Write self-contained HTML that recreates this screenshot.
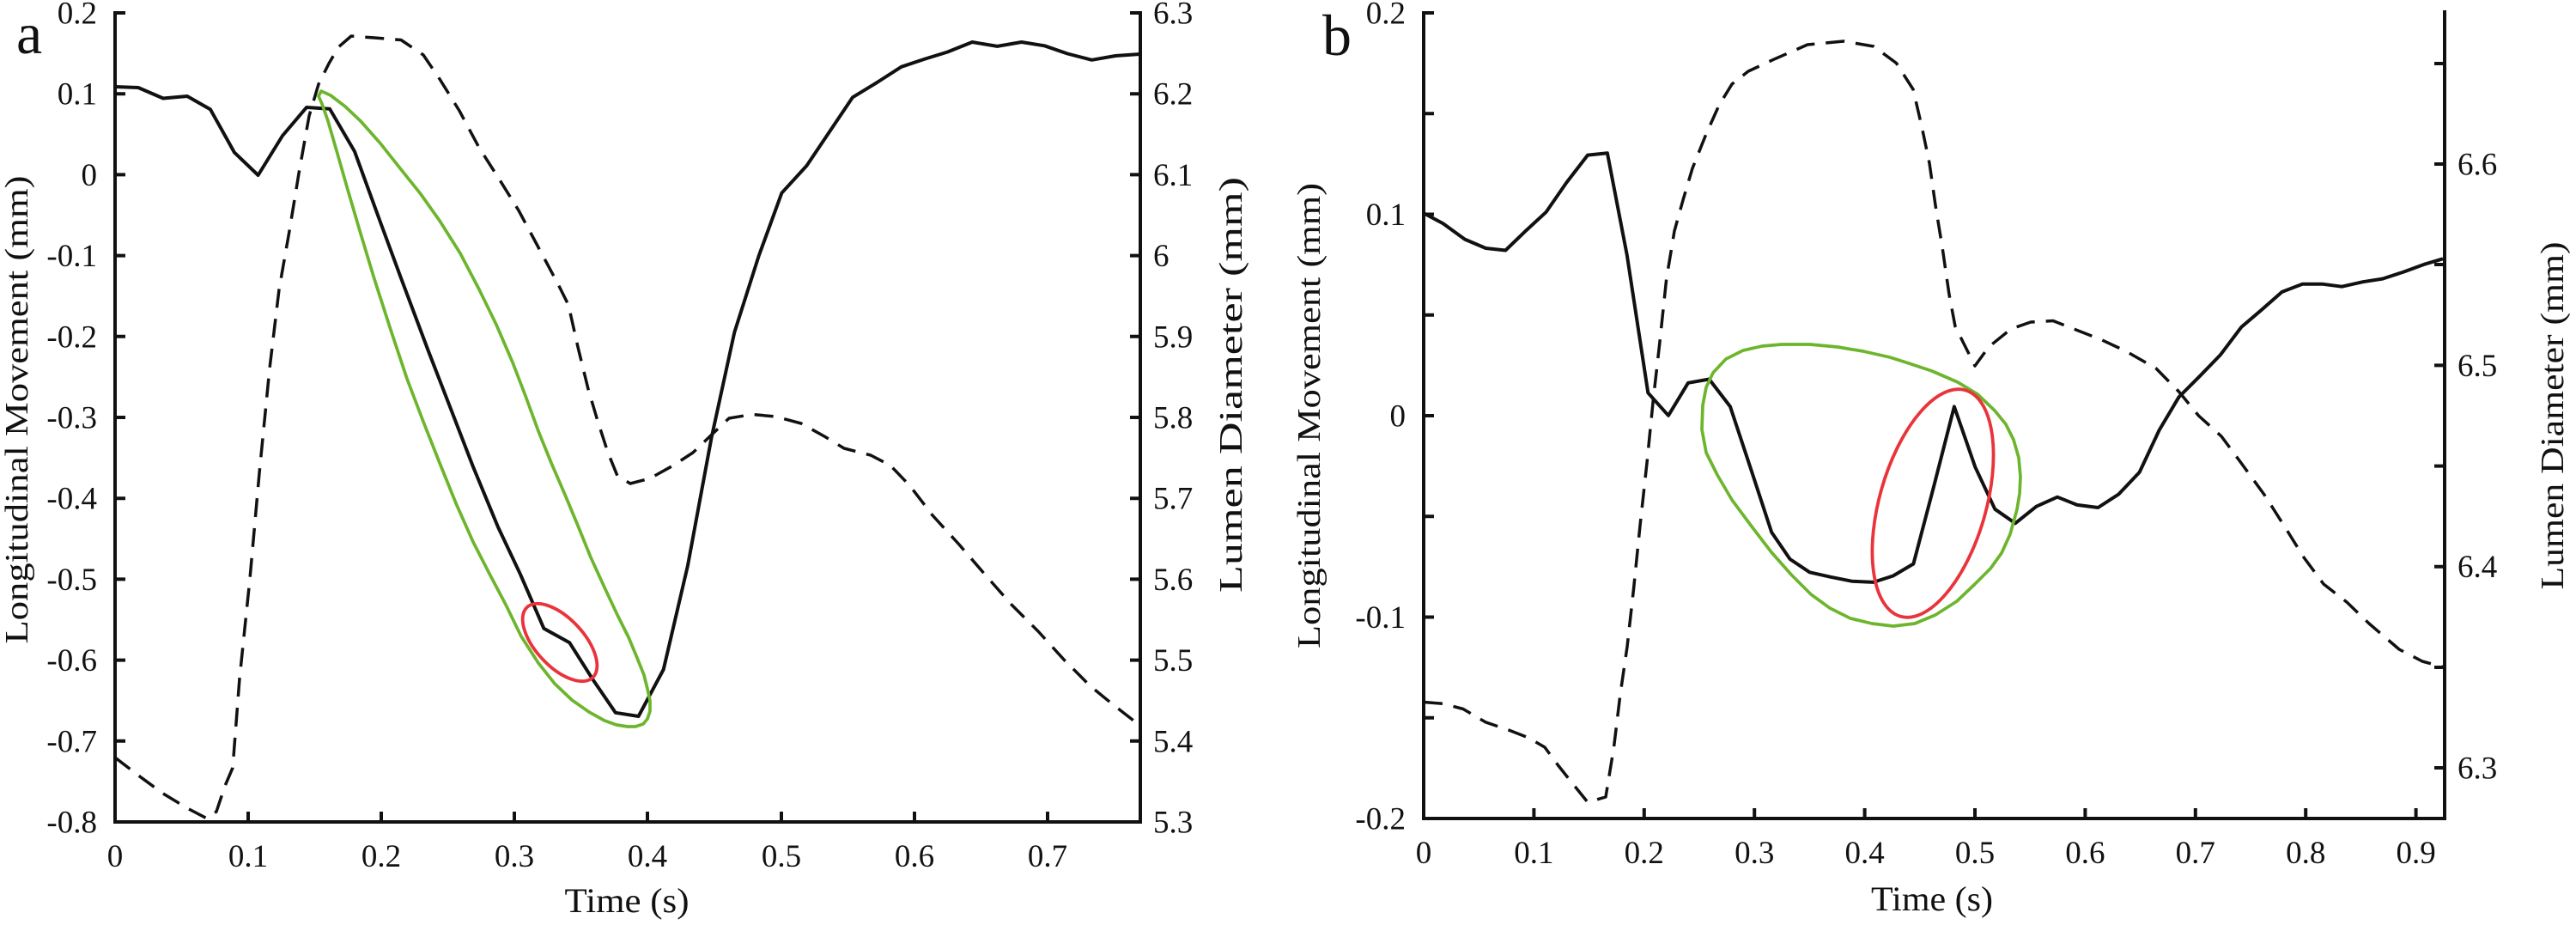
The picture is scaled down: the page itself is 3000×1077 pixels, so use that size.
<!DOCTYPE html>
<html>
<head>
<meta charset="utf-8">
<style>
html,body{margin:0;padding:0;background:#fff;}
svg{display:block;}
text{font-family:"Liberation Serif",serif;fill:#111;}
</style>
</head>
<body>
<svg width="3000" height="1077" viewBox="0 0 3000 1077" xmlns="http://www.w3.org/2000/svg">
<rect width="3000" height="1077" fill="#fff"/>

<!-- ================= PANEL A ================= -->
<g stroke="#111" stroke-width="4" fill="none" stroke-linecap="square">
  <path d="M134,15 V957 H1328 V15"/>
  <!-- left ticks -->
  <path d="M134,15 h12 M134,109.2 h12 M134,203.4 h12 M134,297.6 h12 M134,391.8 h12 M134,486 h12 M134,580.2 h12 M134,674.4 h12 M134,768.6 h12 M134,862.8 h12" stroke-linecap="butt"/>
  <!-- right ticks -->
  <path d="M1328,15 h-12 M1328,109.2 h-12 M1328,203.4 h-12 M1328,297.6 h-12 M1328,391.8 h-12 M1328,486 h-12 M1328,580.2 h-12 M1328,674.4 h-12 M1328,768.6 h-12 M1328,862.8 h-12" stroke-linecap="butt"/>
  <!-- bottom ticks -->
  <path d="M289,957 v-12 M444,957 v-12 M599,957 v-12 M754,957 v-12 M910,957 v-12 M1065,957 v-12 M1220,957 v-12" stroke-linecap="butt"/>
</g>

<g font-size="37" text-anchor="end">
  <text x="113" y="27.5">0.2</text>
  <text x="113" y="121.7">0.1</text>
  <text x="113" y="215.9">0</text>
  <text x="113" y="310.1">-0.1</text>
  <text x="113" y="404.3">-0.2</text>
  <text x="113" y="498.5">-0.3</text>
  <text x="113" y="592.7">-0.4</text>
  <text x="113" y="686.9">-0.5</text>
  <text x="113" y="781.1">-0.6</text>
  <text x="113" y="875.3">-0.7</text>
  <text x="113" y="969.5">-0.8</text>
</g>
<g font-size="37" text-anchor="start">
  <text x="1343" y="27.5">6.3</text>
  <text x="1343" y="121.7">6.2</text>
  <text x="1343" y="215.9">6.1</text>
  <text x="1343" y="310.1">6</text>
  <text x="1343" y="404.3">5.9</text>
  <text x="1343" y="498.5">5.8</text>
  <text x="1343" y="592.7">5.7</text>
  <text x="1343" y="686.9">5.6</text>
  <text x="1343" y="781.1">5.5</text>
  <text x="1343" y="875.3">5.4</text>
  <text x="1343" y="969.5">5.3</text>
</g>
<g font-size="37" text-anchor="middle">
  <text x="134" y="1009">0</text>
  <text x="289" y="1009">0.1</text>
  <text x="444" y="1009">0.2</text>
  <text x="599" y="1009">0.3</text>
  <text x="754" y="1009">0.4</text>
  <text x="910" y="1009">0.5</text>
  <text x="1065" y="1009">0.6</text>
  <text x="1220" y="1009">0.7</text>
</g>

<text x="730" y="1062" font-size="40" text-anchor="middle" textLength="145" lengthAdjust="spacingAndGlyphs">Time (s)</text>
<text transform="translate(32,477) rotate(-90)" font-size="38" text-anchor="middle" textLength="545" lengthAdjust="spacingAndGlyphs">Longitudinal Movement (mm)</text>
<text transform="translate(1446,448) rotate(-90)" font-size="38" text-anchor="middle" textLength="484" lengthAdjust="spacingAndGlyphs">Lumen Diameter (mm)</text>
<text x="19" y="62" font-size="68">a</text>

<!-- dashed (lumen diameter) A -->
<polyline fill="none" stroke="#111" stroke-width="3.5" stroke-dasharray="22 13" stroke-linejoin="round"
 points="134,882 160,902 190,924 220,942 241,953 252,945 262,915 271,894 279,790 291,674 302,551 314,429 325,337 337,269 348,202 360,135 371,98 383,74 394,55 409,42 436,44 467,46.5 493,64 512,92 535,129 558,172 581,208 604,245 627,288 650,331 662,355 673,404 685,453 696,490 708,527 719,554 734,563 757,557 784,542 807,527 830,505 849,487 876,482.5 903,485 933,493 960,508 983,522 1014,530 1037,542 1060,566 1086,600 1117,634 1148,670 1178,704 1209,735 1239,768 1270,799 1297,821 1324,842"/>

<!-- solid (longitudinal movement) A -->
<polyline fill="none" stroke="#111" stroke-width="4" stroke-linejoin="round"
 points="134,101 161,102 190,114.5 218,112 245,127.4 273,177.6 300.6,204 329,158 357,125 384,126.8 413,176.4 442,256 466.6,322.7 498.8,408.5 525.6,477.7 550.8,543 580,613.6 606,668.7 633.4,731.8 663.3,748.3 690.8,791.8 716.8,829.8 743.6,834 772.7,779.5 801,658.3 828.5,510 855.3,387 883.6,298.2 910.4,224.7 939.5,192.9 966.3,153 993,113.3 1021.4,96 1049.7,77.8 1077.2,68.6 1103.2,60.6 1132.3,49 1161.4,53.9 1189.7,49 1216.5,53.3 1243.2,62.5 1271.5,69.8 1299,65 1327.4,63"/>

<!-- green loop A -->
<polygon fill="none" stroke="#6cb52d" stroke-width="3.7" stroke-linejoin="round"
 points="374,106 385,111 402,124 420,141 443,167 466,196 490,226 512,257 536,295 558,337 578,378 597,422 612,461 627,502 642,539 658,576 673,612 688,649 704,684 719,716 732,742 742,766 750,786 754,802 757,816 757,828 754,837 749,843 740,846 731,846 718,844 704,839 686,829 666,815 646,796 627,772 607,741 589,704 570,668 551,631 531,586 512,539 493,491 474,441 455,384 436,325 420,272 405,221 393,179 382,141 375,121 371,112"/>

<!-- red ellipse A -->
<ellipse cx="652" cy="748" rx="56" ry="28" transform="rotate(47 652 748)" fill="none" stroke="#e8343a" stroke-width="3.8"/>

<!-- ================= PANEL B ================= -->
<g stroke="#111" stroke-width="4" fill="none" stroke-linecap="square">
  <path d="M1658,15 V953 H2847 V14"/>
  <path d="M1658,15 h12 M1658,132.3 h12 M1658,249.5 h12 M1658,366.8 h12 M1658,484 h12 M1658,601.3 h12 M1658,718.5 h12 M1658,835.8 h12" stroke-linecap="butt"/>
  <path d="M2847,74 h-12 M2847,191 h-12 M2847,308 h-12 M2847,425.4 h-12 M2847,542.6 h-12 M2847,659.7 h-12 M2847,777 h-12 M2847,894 h-12" stroke-linecap="butt"/>
  <path d="M1786.4,953 v-12 M1914.8,953 v-12 M2043.2,953 v-12 M2171.6,953 v-12 M2300,953 v-12 M2428.4,953 v-12 M2556.8,953 v-12 M2685.2,953 v-12 M2813.6,953 v-12" stroke-linecap="butt"/>
</g>

<g font-size="37" text-anchor="end">
  <text x="1637" y="27.5">0.2</text>
  <text x="1637" y="262">0.1</text>
  <text x="1637" y="496.5">0</text>
  <text x="1637" y="731">-0.1</text>
  <text x="1637" y="965.5">-0.2</text>
</g>
<g font-size="37" text-anchor="start">
  <text x="2862" y="203.5">6.6</text>
  <text x="2862" y="438">6.5</text>
  <text x="2862" y="672">6.4</text>
  <text x="2862" y="906.5">6.3</text>
</g>
<g font-size="37" text-anchor="middle">
  <text x="1658" y="1005">0</text>
  <text x="1786.4" y="1005">0.1</text>
  <text x="1914.8" y="1005">0.2</text>
  <text x="2043.2" y="1005">0.3</text>
  <text x="2171.6" y="1005">0.4</text>
  <text x="2300" y="1005">0.5</text>
  <text x="2428.4" y="1005">0.6</text>
  <text x="2556.8" y="1005">0.7</text>
  <text x="2685.2" y="1005">0.8</text>
  <text x="2813.6" y="1005">0.9</text>
</g>

<text x="2250" y="1060" font-size="40" text-anchor="middle" textLength="142" lengthAdjust="spacingAndGlyphs">Time (s)</text>
<text transform="translate(1537,484) rotate(-90)" font-size="38" text-anchor="middle" textLength="542" lengthAdjust="spacingAndGlyphs">Longitudinal Movement (mm)</text>
<text transform="translate(2985,484) rotate(-90)" font-size="38" text-anchor="middle" textLength="405" lengthAdjust="spacingAndGlyphs">Lumen Diameter (mm)</text>
<text x="1540" y="64" font-size="68">b</text>

<!-- dashed B -->
<polyline fill="none" stroke="#111" stroke-width="3.5" stroke-dasharray="22 13" stroke-linejoin="round"
 points="1658,817.5 1681,819.3 1704,825.5 1730,840.8 1757,850 1780,859 1799,870 1814.5,891 1834,915.5 1849,934 1870,928 1879.5,870 1887,808 1895,753 1902.5,686 1910,612 1918,539 1925.4,465 1933,398 1940.7,325 1950,269 1960,233 1971,196 1987,156 2002,122.5 2017,98 2036,83 2067,68.6 2105,52 2147,48 2182,54 2208.5,73.5 2228,104 2238,147 2247,190 2254,239 2262,288 2270,343 2277,380 2289,404 2300,426 2316,404 2342,383 2365,375 2391,373.5 2415,383 2446,395 2476,409 2511,429 2537.5,456 2560.5,484 2587,508 2610,539 2637,576 2660,612 2683,649 2706,680 2733,701 2759,726 2794,756 2821,770 2845,776.5"/>

<!-- solid B -->
<polyline fill="none" stroke="#111" stroke-width="4" stroke-linejoin="round"
 points="1657.7,248 1680.6,260.3 1705.9,278.6 1730.3,289 1753.3,291.5 1776.2,269.4 1800.7,246.8 1824.4,212.5 1849,180.6 1871.9,178.2 1894.8,297 1919.3,457.4 1943,483.8 1966,445.8 1990.5,441.5 2015,473.4 2038.7,545 2063.2,619.7 2084.6,651 2107.5,666.3 2132,671.8 2156.5,676.7 2181.7,677.9 2204.7,670.5 2228.4,656.5 2252.1,566.4 2275.9,473.4 2300.3,543.8 2323.3,592.8 2347,609.3 2371.5,589.7 2396,578.7 2419,587.9 2443.4,591 2467.2,575.6 2491.6,549.9 2514.6,500.9 2537.5,462.3 2562,437.8 2585.7,413.4 2610.2,380.9 2633.2,361.3 2657.6,339.9 2681.4,330.7 2704.3,330.7 2727.3,333.7 2751.8,328.2 2774.7,324.6 2799.2,316.6 2824.4,307.4 2845,301.3"/>

<!-- green loop B -->
<polygon fill="none" stroke="#6cb52d" stroke-width="3.7" stroke-linejoin="round"
 points="2075,401 2108,401 2140,404 2170,409 2201,416 2223,423 2250,432 2280,445 2303,459 2323,478 2336,494 2345,512 2351,533 2353,555 2352,575 2349,593 2341,622 2331,644 2318,662 2300,680 2279,700 2254,716 2230,726 2205,729 2180,726 2155,720 2131,708 2109,692 2086,669 2063,643 2040,613 2017,582 2000,553 1987,527 1982,500 1983,472 1987,451 1995,434 2010,418 2030,408 2052,403"/>

<!-- red ellipse B -->
<ellipse cx="2251" cy="586" rx="62" ry="137" transform="rotate(16 2251 586)" fill="none" stroke="#e8343a" stroke-width="3.8"/>

</svg>
</body>
</html>
